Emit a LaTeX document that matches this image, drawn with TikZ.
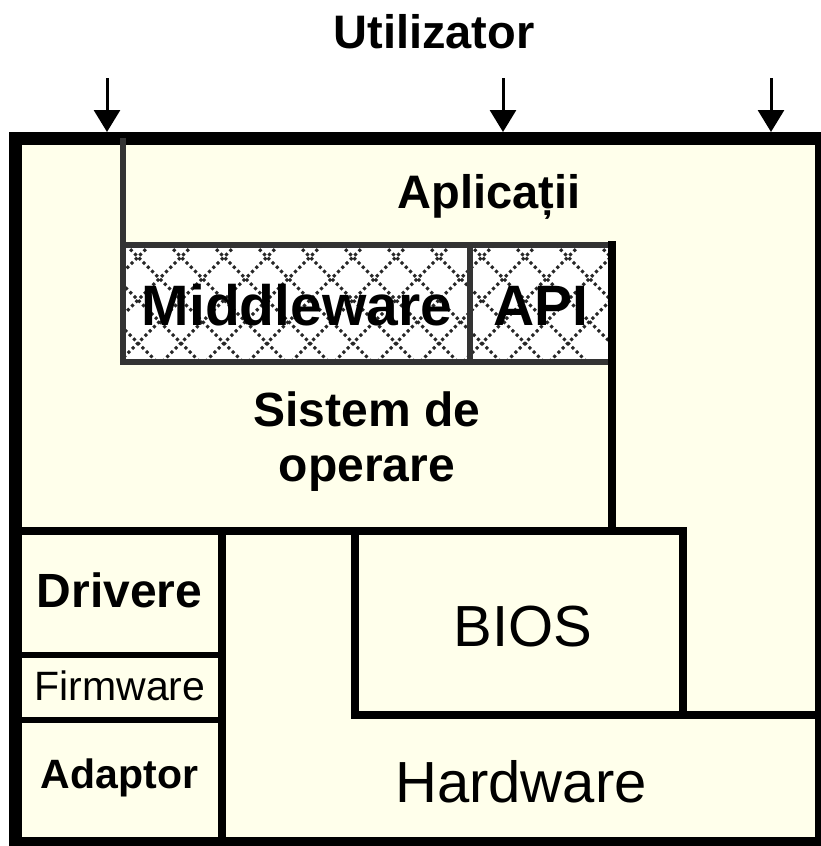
\documentclass[tikz,border=0pt]{standalone}
\usepackage{fontspec}
\setmainfont{Liberation Sans}
\usetikzlibrary{arrows.meta}

\begin{document}
\begin{tikzpicture}[x=1pt, y=-1pt, line join=miter,
  wall/.style={line width=8pt},
  thinwall/.style={line width=6pt},
  greywall/.style={draw=darkline, line width=6pt},
  hatch/.style={draw=hatchline, line width=3pt, dash pattern=on 3pt off 3pt},
  usr/.style={line width=3pt, -{Triangle[width=26pt,length=22pt]}},
  lbl/.style={anchor=base, inner sep=0pt, font=\fontsize{48}{55}\selectfont\bfseries},
  bigbold/.style={anchor=base, inner sep=0pt, font=\fontsize{57}{60}\selectfont\bfseries},
  big/.style={anchor=base, inner sep=0pt, font=\fontsize{58}{60}\selectfont},
  small/.style={anchor=base, inner sep=0pt, font=\fontsize{41}{44}\selectfont}]

\definecolor{cream}{HTML}{FFFFEB}
\definecolor{darkline}{HTML}{333333}
\definecolor{hatchline}{HTML}{262626}

\useasboundingbox (0,0) rectangle (821,846);

% outer box
\draw[line width=13pt, fill=cream] (15.5,138.5) rectangle (821.5,843);

% middleware + api, hatched
\fill[white] (123,245) rectangle (612,362);
\begin{scope}
\clip (123,245) rectangle (612,362);
\foreach \k in {-4,...,12} {
  \draw[hatch] (126+43*\k,245) -- ++(117,117);
  \draw[hatch] (150+43*\k,245) -- ++(-117,117);
}
\end{scope}
\draw[greywall] (123,138) -- (123,245);
\draw[greywall] (123,245) rectangle (470,362);
\draw[greywall] (470,245) rectangle (612,362);

% layer borders
\draw[wall] (612,241) -- (612,531);
\draw[wall] (15,531) -- (612,531);
\draw[wall] (355,531) rectangle (683,715);
\draw[wall] (683,715) -- (821,715);
\draw[wall] (222,531) -- (222,843);
\draw[thinwall] (15,655) -- (222,655);
\draw[thinwall] (15,720) -- (222,720);

% user input
\node[lbl, font=\fontsize{47}{50}\selectfont\bfseries] (user) at (434,48) {Utilizator};
\coordinate (in1) at (107,78);
\coordinate (in2) at (503,78);
\coordinate (in3) at (771,78);
\coordinate (top1) at (107,132);
\coordinate (top2) at (503,132);
\coordinate (top3) at (771,132);
\draw[usr] (in1) -- (top1);
\draw[usr] (in2) -- (top2);
\draw[usr] (in3) -- (top3);

% labels
\node[lbl, font=\fontsize{47}{50}\selectfont\bfseries] (apps) at (489,208) {Aplicații};
\node[bigbold] (middleware) at (297,325) {Middleware};
\node[bigbold] (api) at (541,325) {API};
\node[lbl, anchor=center, align=center] (os) at (367,442) {Sistem de\\operare};
\node[lbl] (drivers) at (119.5,607) {Drivere};
\node[small] (firmware) at (120,700) {Firmware};
\node[small, font=\fontsize{41}{44}\selectfont\bfseries] (adaptor) at (119.5,788) {Adaptor};
\node[big] (bios) at (523,646) {BIOS};
\node[big] (hardware) at (521,802) {Hardware};

\end{tikzpicture}
\end{document}
